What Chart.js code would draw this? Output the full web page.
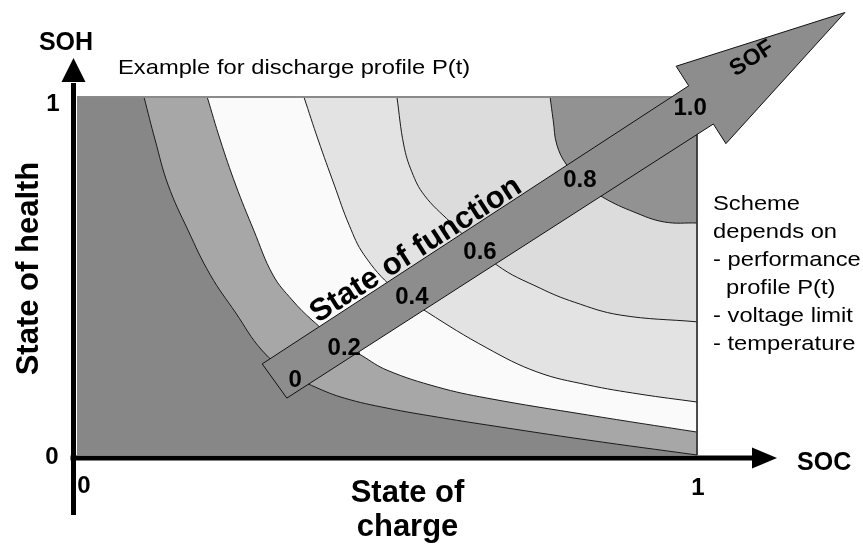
<!DOCTYPE html>
<html>
<head>
<meta charset="utf-8">
<script src="https://cdn.jsdelivr.net/npm/chart.js@4.4.1/dist/chart.umd.min.js"></script>
<style>
  html, body { margin: 0; padding: 0; background: #fff; }
  #wrap { width: 863px; height: 544px; }
</style>
</head>
<body>
<div id="wrap"><canvas id="sofChart" width="863" height="544"></canvas></div>
<script>
// contour lines of the state of function, SOC on x, SOH on y
const soc1 = [0.108, 0.126, 0.147, 0.179, 0.215, 0.256, 0.298, 0.344, 0.384, 0.431, 0.5, 0.581, 0.661, 0.823, 1.0];
const soh1 = [1.0, 0.880, 0.754, 0.628, 0.503, 0.397, 0.293, 0.226, 0.190, 0.159, 0.131, 0.106, 0.084, 0.042, 0.0];

const soc2 = [0.21, 0.231, 0.256, 0.285, 0.316, 0.347, 0.379, 0.419, 0.46, 0.5, 0.581, 0.661, 0.823, 1.0];
const soh2 = [1.0, 0.880, 0.754, 0.628, 0.503, 0.433, 0.377, 0.321, 0.277, 0.237, 0.190, 0.159, 0.112, 0.064];

const soc3 = [0.366, 0.389, 0.415, 0.439, 0.463, 0.510, 0.565, 0.661, 0.742, 0.823, 0.908, 1.0];
const soh3 = [1.0, 0.880, 0.754, 0.642, 0.559, 0.466, 0.399, 0.299, 0.232, 0.196, 0.170, 0.148];

const soc4 = [0.516, 0.527, 0.540, 0.560, 0.602, 0.677, 0.747, 0.802, 0.876, 1.0];
const soh4 = [1.0, 0.866, 0.791, 0.726, 0.651, 0.531, 0.466, 0.427, 0.391, 0.372];

const soc5 = [0.763, 0.768, 0.774, 0.790, 0.819, 0.850, 0.898, 0.947, 1.0];
const soh5 = [1.0, 0.936, 0.866, 0.810, 0.757, 0.718, 0.679, 0.651, 0.648];

// SOF arrow outline (tail, neck, barb, tip, barb, neck, tail)
const arrowSoc = [0.2987, 0.9866, 0.9663, 1.2385, 1.0466, 1.0263, 0.3384, 0.2987];
const arrowSoh = [0.2545, 1.0313, 1.0860, 1.2360, 0.8698, 0.9246, 0.1590, 0.2545];

const sofTicks = ['0', '0.2', '0.4', '0.6', '0.8', '1.0'];
const axisTicks = ['0', '1'];

const pts = (xs, ys) => xs.map((x, i) => ({x: x, y: ys[i]}));

const band = (xs, ys, color, order) => ({
    data: pts(xs, ys),
    backgroundColor: color,
    borderColor: '#1a1a1a',
    borderWidth: 1,
    fill: {value: 1},
    tension: 0.4,
    order: order
});

//#####################
// Text and axis arrows
//#####################
const REG = '"Liberation Sans", Arial, sans-serif';
const sofTickAt = [[0.352, 0.209], [0.431, 0.299], [0.540, 0.439], [0.650, 0.567], [0.811, 0.768], [0.989, 0.969]];
const ANG = -Math.atan(0.6426);

const drawText = (ctx, text, x, y, font, align, base, rot, sx) => {
    ctx.save();
    ctx.translate(x, y);
    if (rot) ctx.rotate(rot);
    if (sx) ctx.scale(sx, 1);
    ctx.font = font;
    ctx.textAlign = align || 'left';
    ctx.textBaseline = base || 'alphabetic';
    ctx.fillStyle = '#000';
    ctx.fillText(text, 0, 0);
    ctx.restore();
};

const decor = {
    id: 'decor',
    afterDatasetsDraw(chart) {
        const ctx = chart.ctx;
        const X = v => chart.scales.x.getPixelForValue(v);
        const Y = v => chart.scales.y.getPixelForValue(v);
        const ox = X(0) - 3.5, oy = Y(0) + 3;

        // axes with arrow heads
        ctx.save();
        ctx.fillStyle = '#000';
        ctx.strokeStyle = '#000';
        ctx.lineWidth = 5;
        ctx.beginPath();
        ctx.moveTo(ox, oy + 57);
        ctx.lineTo(ox, Y(1) - 14);
        ctx.moveTo(ox - 3, oy);
        ctx.lineTo(X(1) + 56, oy);
        ctx.stroke();
        ctx.beginPath();
        ctx.moveTo(ox - 12, Y(1) - 15);
        ctx.lineTo(ox, Y(1) - 39);
        ctx.lineTo(ox + 12, Y(1) - 15);
        ctx.closePath();
        ctx.fill();
        ctx.beginPath();
        ctx.moveTo(X(1) + 55, oy - 10.5);
        ctx.lineTo(X(1) + 80, oy);
        ctx.lineTo(X(1) + 55, oy + 10.5);
        ctx.closePath();
        ctx.fill();
        ctx.restore();

        const B24 = 'bold 24px ' + REG, B31 = 'bold 31px ' + REG;
        drawText(ctx, axisTicks[1], X(0) - 24, Y(1) + 7, B24, 'center', 'middle');
        drawText(ctx, axisTicks[0], X(0) - 25, Y(0) + 2, B24, 'center', 'middle');
        drawText(ctx, axisTicks[0], X(0) + 7, Y(0) + 31, B24, 'center', 'middle');
        drawText(ctx, axisTicks[1], X(1) + 1, Y(0) + 33, B24, 'center', 'middle');

        drawText(ctx, 'SOH', X(-0.0177), Y(1.1313), 'bold 25px ' + REG, 'center');
        drawText(ctx, 'SOC', X(1.1613), Y(-0.0237), 'bold 25px ' + REG, 'left', 'middle');
        drawText(ctx, 'State of', X(0.5331), Y(-0.1313), B31, 'center');
        drawText(ctx, 'charge', X(0.5331), Y(-0.2263), B31, 'center');
        drawText(ctx, 'State of health', X(-0.0629), Y(0.5209), B31, 'center', 'alphabetic', -Math.PI / 2);

        const R = '21px ' + REG;
        drawText(ctx, 'Example for discharge profile P(t)', X(0.0661), Y(1.0642), R, 'left', 'alphabetic', 0, 1.13);
        const notes = ['Scheme', 'depends on', '- performance', 'profile P(t)', '- voltage limit', '- temperature'];
        const noteY = [0.6844, 0.6061, 0.5279, 0.4497, 0.3715, 0.2933];
        notes.forEach((t, i) => {
            drawText(ctx, t, X(i === 3 ? 1.0468 : 1.0258), Y(noteY[i]), R, 'left', 'alphabetic', 0, 1.13);
        });

        // labels on the SOF arrow
        sofTicks.forEach((t, i) => {
            drawText(ctx, t, X(sofTickAt[i][0]), Y(sofTickAt[i][1]), B24, 'center', 'middle');
        });
        drawText(ctx, 'SOF', X(1.0887), Y(1.1075), 'bold 23px ' + REG, 'center', 'middle', ANG);
        drawText(ctx, 'State of function', X(0.5468), Y(0.5726), B31, 'center', 'middle', ANG);
    }
};

const chartCanvas = document.getElementById('sofChart');

const myChart = new Chart(chartCanvas, {
    type: 'line',
    data: {
        datasets: [
            // whole SOC/SOH square, darkest zone
            {data: pts([0, 1], [0, 0]), backgroundColor: '#878787', borderWidth: 0, fill: {value: 1}, order: 10},
            band(soc1, soh1, '#a7a7a7', 9),
            band(soc2, soh2, '#fafafa', 8),
            band(soc3, soh3, '#e3e3e3', 7),
            band(soc4, soh4, '#dcdcdc', 6),
            band(soc5, soh5, '#929292', 5),
            {data: pts([0, 1], [1, 1]), borderColor: '#8a8a8a', borderWidth: 2, fill: false, order: 4},
            {data: pts([1, 1], [1, 0]), borderColor: '#333', borderWidth: 1, fill: false, order: 4},
            {data: pts(arrowSoc, arrowSoh), backgroundColor: '#8d8d8d', borderColor: '#111',
             borderWidth: 1, fill: 'shape', tension: 0, order: 1}
        ]
    },
    options: {
        responsive: false,
        animation: false,
        layout: {padding: 0},
        elements: {point: {radius: 0, hoverRadius: 0}},
        plugins: {legend: {display: false}, tooltip: {enabled: false}},
        scales: {
            x: {type: 'linear', display: false, min: -0.1242, max: 1.2677},
            y: {type: 'linear', display: false, min: -0.2486, max: 1.271}
        }
    },
    plugins: [decor]
});
</script>
</body>
</html>
